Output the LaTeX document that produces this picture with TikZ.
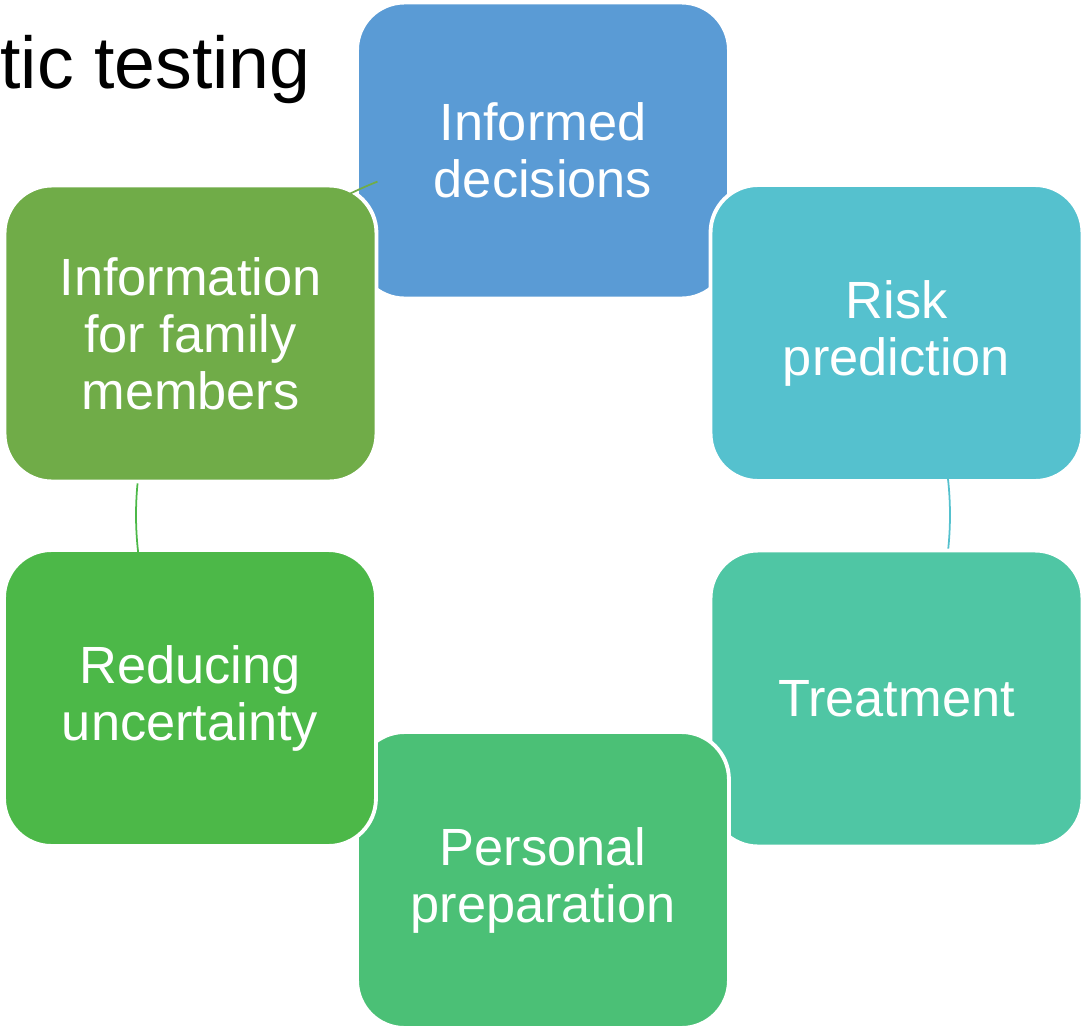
\documentclass[tikz,border=0pt]{standalone}
\usepackage{fontspec}
\setmainfont{Liberation Sans}
\definecolor{decblue}{HTML}{5A9BD5}
\definecolor{riskcyan}{HTML}{55C1CE}
\definecolor{treatteal}{HTML}{4FC6A4}
\definecolor{prepgreen}{HTML}{4BC076}
\definecolor{reducegreen}{HTML}{4CB848}
\definecolor{familyolive}{HTML}{70AC48}
\tikzset{
  stage/.style={draw=white, line width=2.2pt, rounded corners=0.95cm,
    minimum width=7.44cm, minimum height=5.92cm, inner sep=0pt,
    text=white, align=center, font=\fontsize{29.8}{32.4}\selectfont},
  heading/.style={inner sep=0pt, font=\fontsize{41.8}{50}\selectfont}
}
\newcommand{\CycleArc}[3]% #1=colour, #2-#3 start and end angle on the ellipse
{\draw [#1, line width=1pt, domain=#2:#3, samples=40, smooth, variable=\t]
   plot ({543+407*cos(\t)}, {515-365*sin(\t)});
}
\begin{document}
\begin{tikzpicture}[x=0.02cm, y=-0.02cm]

  \useasboundingbox (0,0) rectangle (1083,1029);
  \node [heading, anchor=base west] (title) at (0,88) {tic testing};

  \node [stage, fill=decblue] (decisions) at (543,150.5) {Informed\\decisions};
  \CycleArc{decblue}{66}{64.5}
  \node [stage, fill=riskcyan] (risk) at (896.5,333) {Risk\\prediction};
  \CycleArc{riskcyan}{6}{-6}
  \node [stage, fill=treatteal] (treatment) at (896.5,698.5) {Treatment};
  \CycleArc{treatteal}{-54}{-58}
  \node [stage, fill=prepgreen] (preparation) at (543,880) {Personal\\preparation};
  \CycleArc{prepgreen}{-114}{-115.5}
  \node [stage, fill=reducegreen] (uncertainty) at (190,698) {Reducing\\uncertainty};
  \CycleArc{reducegreen}{186}{174}
  \node [stage, fill=familyolive] (family) at (190.5,333.5) {Information\\for family\\members};
  \CycleArc{familyolive}{126}{114}
\end{tikzpicture}
\end{document}
